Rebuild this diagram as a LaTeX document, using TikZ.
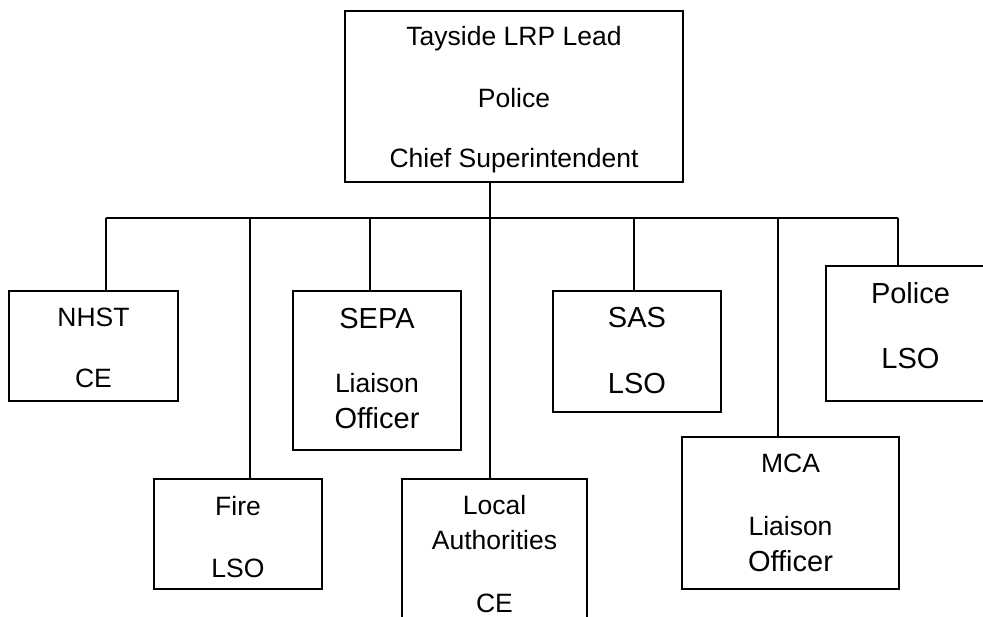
\documentclass[tikz,border=0pt]{standalone}
\usepackage{fontspec}
\setmainfont{Liberation Sans}
\begin{document}
\begin{tikzpicture}[x=1pt,y=-1pt,
  box/.style={draw,line width=2pt,rectangle,inner sep=0pt,outer sep=0pt,anchor=center},
  sm/.style={anchor=base,inner sep=0pt,font=\fontsize{26.5}{30}\selectfont},
  lg/.style={anchor=base,inner sep=0pt,font=\fontsize{29}{33}\selectfont},
  conn/.style={line width=2pt}]
\useasboundingbox (0,0) rectangle (983,617);
\clip (0,0) rectangle (983,617);
% boxes
\node[box,minimum width=338pt,minimum height=171pt] (top) at (514,96.5) {};
\node[box,minimum width=169pt,minimum height=110pt] (nhst) at (93.5,346) {};
\node[box,minimum width=168pt,minimum height=159pt] (sepa) at (377,370.5) {};
\node[box,minimum width=168pt,minimum height=110pt] (fire) at (238,534) {};
\node[box,minimum width=185pt,minimum height=181pt] (local) at (494.5,569.5) {};
\node[box,minimum width=168pt,minimum height=121pt] (sas) at (637,351.5) {};
\node[box,minimum width=169pt,minimum height=135pt] (police) at (910.5,333.5) {};
\node[box,minimum width=217pt,minimum height=152pt] (mca) at (790.5,513) {};
% texts
\node[sm] (t1) at (514,46) {Tayside LRP Lead};
\node[sm] (t2) at (514,108) {Police};
\node[sm] (t3) at (514,168) {Chief Superintendent};
\node[sm] (n1) at (93.5,327) {NHST};
\node[sm] (n2) at (93.5,388) {CE};
\node[lg] (s1) at (377,329) {SEPA};
\node[sm] (s2) at (377,393) {Liaison};
\node[lg] (s3) at (377,429) {Officer};
\node[sm] (f1) at (238,515) {Fire};
\node[sm] (f2) at (238,577) {LSO};
\node[sm] (l1) at (494.5,514) {Local};
\node[sm] (l2) at (494.5,549) {Authorities};
\node[sm] (l3) at (494.5,612) {CE};
\node[lg] (a1) at (637,328) {SAS};
\node[lg] (a2) at (637,394) {LSO};
\node[lg] (p1) at (910.5,304) {Police};
\node[lg] (p2) at (910.5,369) {LSO};
\node[sm] (m1) at (790.5,473) {MCA};
\node[sm] (m2) at (790.5,535) {Liaison};
\node[lg] (m3) at (790.5,571) {Officer};
% connectors
\coordinate (j) at (490,218);
\coordinate (jN) at (106,218);
\coordinate (jF) at (250,218);
\coordinate (jS) at (370,218);
\coordinate (jA) at (634,218);
\coordinate (jM) at (778,218);
\coordinate (jP) at (898,218);
\draw[conn] (top.south -| j) -- (j);
\draw[conn] (jN) -- (jP);
\draw[conn] (jN) -- (nhst.north -| jN);
\draw[conn] (jF) -- (fire.north -| jF);
\draw[conn] (jS) -- (sepa.north -| jS);
\draw[conn] (j) -- (local.north -| j);
\draw[conn] (jA) -- (sas.north -| jA);
\draw[conn] (jM) -- (mca.north -| jM);
\draw[conn] (jP) -- (police.north -| jP);
\end{tikzpicture}
\end{document}
